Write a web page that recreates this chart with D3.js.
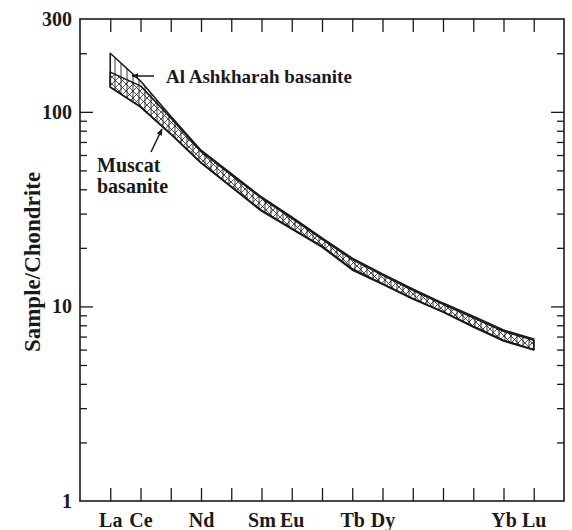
<!DOCTYPE html>
<html>
<head>
<meta charset="utf-8">
<script src="https://cdn.jsdelivr.net/npm/d3@7"></script>
<style>
  html, body { margin: 0; padding: 0; background: #fff; }
  svg { display: block; }
  svg text { font-family: "Liberation Serif", "DejaVu Serif", serif !important; font-weight: bold; fill: #1a1a1a; }
</style>
</head>
<body>
<svg id="chart" width="572" height="530"></svg>
<script>
// Rare earth elements in plotting order (Pm has a tick but no analysis)
const elements = ["La", "Ce", "Pr", "Nd", "Pm", "Sm", "Eu", "Gd", "Tb", "Dy", "Ho", "Er", "Tm", "Yb", "Lu"];
const labelledElements = ["La", "Ce", "Nd", "Sm", "Eu", "Tb", "Dy", "Yb", "Lu"];
const plottedElements = ["La", "Ce", "Pr", "Nd", "Sm", "Eu", "Gd", "Tb", "Dy", "Ho", "Er", "Tm", "Yb", "Lu"];

// Chondrite-normalised envelopes (upper and lower bounds) for each basanite suite
const ashkharahUpper = [200, 144, 95, 63.5, 36.5, 28.8, 22.5, 17.7, 14.7, 12.3, 10.4, 8.9, 7.56, 6.8];
const ashkharahLower = [134, 106, 77, 54.8, 31.2, 25.2, 20.4, 15.6, 13.1, 11.0, 9.4, 7.9, 6.7, 6.0];
const muscatUpper    = [160, 136, 93, 62.5, 36.0, 28.4, 22.2, 17.4, 14.5, 12.1, 10.25, 8.75, 7.45, 6.7];
const muscatLower    = [134, 106, 76.9, 54.6, 30.9, 25.0, 20.2, 15.4, 13.0, 10.9, 9.36, 7.84, 6.64, 5.97];

// Y axis ticks
const yLabelTicks = [1, 10, 100, 300];
const yMajorTicks = [10, 100];
const yMinorTicks = [2, 3, 4, 5, 6, 7, 8, 9, 20, 30, 40, 50, 60, 70, 80, 90, 200];

const svg = d3.select("#chart");
const plotLeft = 80, plotRight = 564, plotTop = 19, plotBottom = 501;
const ink = "#1a1a1a";

const x = d3.scaleLinear().domain([-1, elements.length]).range([plotLeft, plotRight]);
const y = d3.scaleLog().domain([1, 300]).range([plotBottom, plotTop]);
const xi = name => x(elements.indexOf(name));

// Hatch patterns: vertical rules for Al Ashkharah, diagonal cross-hatch for Muscat
const defs = svg.append("defs");
const pv = defs.append("pattern").attr("id", "hatchV")
  .attr("patternUnits", "userSpaceOnUse").attr("width", 6).attr("height", 6);
pv.append("line").attr("x1", 1).attr("y1", 0).attr("x2", 1).attr("y2", 6)
  .attr("stroke", "#222").attr("stroke-width", 0.9);

const px = defs.append("pattern").attr("id", "hatchX")
  .attr("patternUnits", "userSpaceOnUse").attr("width", 7).attr("height", 7);
px.append("path").attr("d", "M0,0 L7,7 M7,0 L0,7 M-1,6 L1,8 M6,-1 L8,1 M-1,1 L1,-1 M6,8 L8,6")
  .attr("stroke", "#222").attr("stroke-width", 0.8).attr("fill", "none");

// Build a closed band polygon from upper and lower bounds
function bandPath(upper, lower) {
  const up = plottedElements.map((e, i) => [xi(e), y(upper[i])]);
  const lo = plottedElements.map((e, i) => [xi(e), y(lower[i])]).reverse();
  return d3.line()(up.concat(lo)) + "Z";
}

const bands = svg.append("g");
bands.append("path")
  .attr("d", bandPath(ashkharahUpper, ashkharahLower))
  .attr("fill", "url(#hatchV)")
  .attr("stroke", ink).attr("stroke-width", 1.6).attr("stroke-linejoin", "round");
bands.append("path")
  .attr("d", bandPath(muscatUpper, muscatLower))
  .attr("fill", "url(#hatchX)")
  .attr("stroke", ink).attr("stroke-width", 1.6).attr("stroke-linejoin", "round");

// Frame
svg.append("rect").attr("x", plotLeft).attr("y", plotTop)
  .attr("width", plotRight - plotLeft).attr("height", plotBottom - plotTop)
  .attr("fill", "none").attr("stroke", ink).attr("stroke-width", 1.6);

const tickStroke = g => {
  g.select(".domain").remove();
  g.selectAll(".tick line").attr("stroke", ink).attr("stroke-width", 1.3);
};

// Bottom axis: element ticks pointing inward, selected labels
const xBottom = d3.axisBottom(x)
  .tickValues(d3.range(elements.length))
  .tickSize(-13).tickPadding(0)
  .tickFormat(i => labelledElements.includes(elements[i]) ? elements[i] : "");
svg.append("g").attr("transform", `translate(0,${plotBottom})`).call(xBottom).call(tickStroke)
  .attr("font-family", null).attr("font-size", null)
  .selectAll("text").attr("y", 26).attr("dy", 0).style("font-size", "20px").attr("fill", ink);

// Top axis: matching inward ticks, no labels
svg.append("g").attr("transform", `translate(0,${plotTop})`)
  .call(d3.axisTop(x).tickValues(d3.range(elements.length)).tickSize(-13).tickFormat(""))
  .call(tickStroke);

// Left axis: labels and major ticks
svg.append("g").attr("transform", `translate(${plotLeft},0)`)
  .call(d3.axisLeft(y).tickValues(yMajorTicks).tickSize(-13).tickFormat(""))
  .call(tickStroke);
svg.append("g").attr("transform", `translate(${plotLeft},0)`)
  .call(d3.axisLeft(y).tickValues(yMinorTicks).tickSize(-7).tickFormat(""))
  .call(tickStroke);
const yl = svg.append("g").attr("transform", `translate(${plotLeft},0)`)
  .call(d3.axisLeft(y).tickValues(yLabelTicks).tickSize(0).tickPadding(8).tickFormat(d3.format("d")));
yl.attr("font-family", null).attr("font-size", null);
yl.select(".domain").remove();
yl.selectAll("text").style("font-size", "20px").attr("fill", ink);

// Right axis: inward ticks only
svg.append("g").attr("transform", `translate(${plotRight},0)`)
  .call(d3.axisRight(y).tickValues(yMajorTicks).tickSize(-13).tickFormat(""))
  .call(tickStroke);
svg.append("g").attr("transform", `translate(${plotRight},0)`)
  .call(d3.axisRight(y).tickValues(yMinorTicks).tickSize(-7).tickFormat(""))
  .call(tickStroke);

// Y axis title
svg.append("text")
  .attr("transform", `translate(40,262) rotate(-90)`)
  .attr("text-anchor", "middle")
  .style("font-size", "23px")
  .text("Sample/Chondrite");

// Annotations with arrows
defs.append("marker").attr("id", "arrow").attr("viewBox", "0 0 10 10")
  .attr("refX", 9).attr("refY", 5).attr("markerWidth", 7).attr("markerHeight", 7)
  .attr("markerUnits", "userSpaceOnUse").attr("orient", "auto")
  .append("path").attr("d", "M0,1 L10,5 L0,9 Z").attr("fill", ink);

const ann = svg.append("g");
ann.append("line").attr("x1", 154).attr("y1", 76).attr("x2", 132).attr("y2", 76)
  .attr("stroke", ink).attr("stroke-width", 1.5).attr("marker-end", "url(#arrow)");
ann.append("text").attr("x", 166).attr("y", 83).style("font-size", "19px")
  .text("Al Ashkharah basanite");

ann.append("line").attr("x1", 151).attr("y1", 152).attr("x2", 162).attr("y2", 129)
  .attr("stroke", ink).attr("stroke-width", 1.5).attr("marker-end", "url(#arrow)");
ann.append("text").attr("x", 97).attr("y", 172).style("font-size", "20px").text("Muscat");
ann.append("text").attr("x", 97).attr("y", 193).style("font-size", "20px").text("basanite");
</script>
</body>
</html>
